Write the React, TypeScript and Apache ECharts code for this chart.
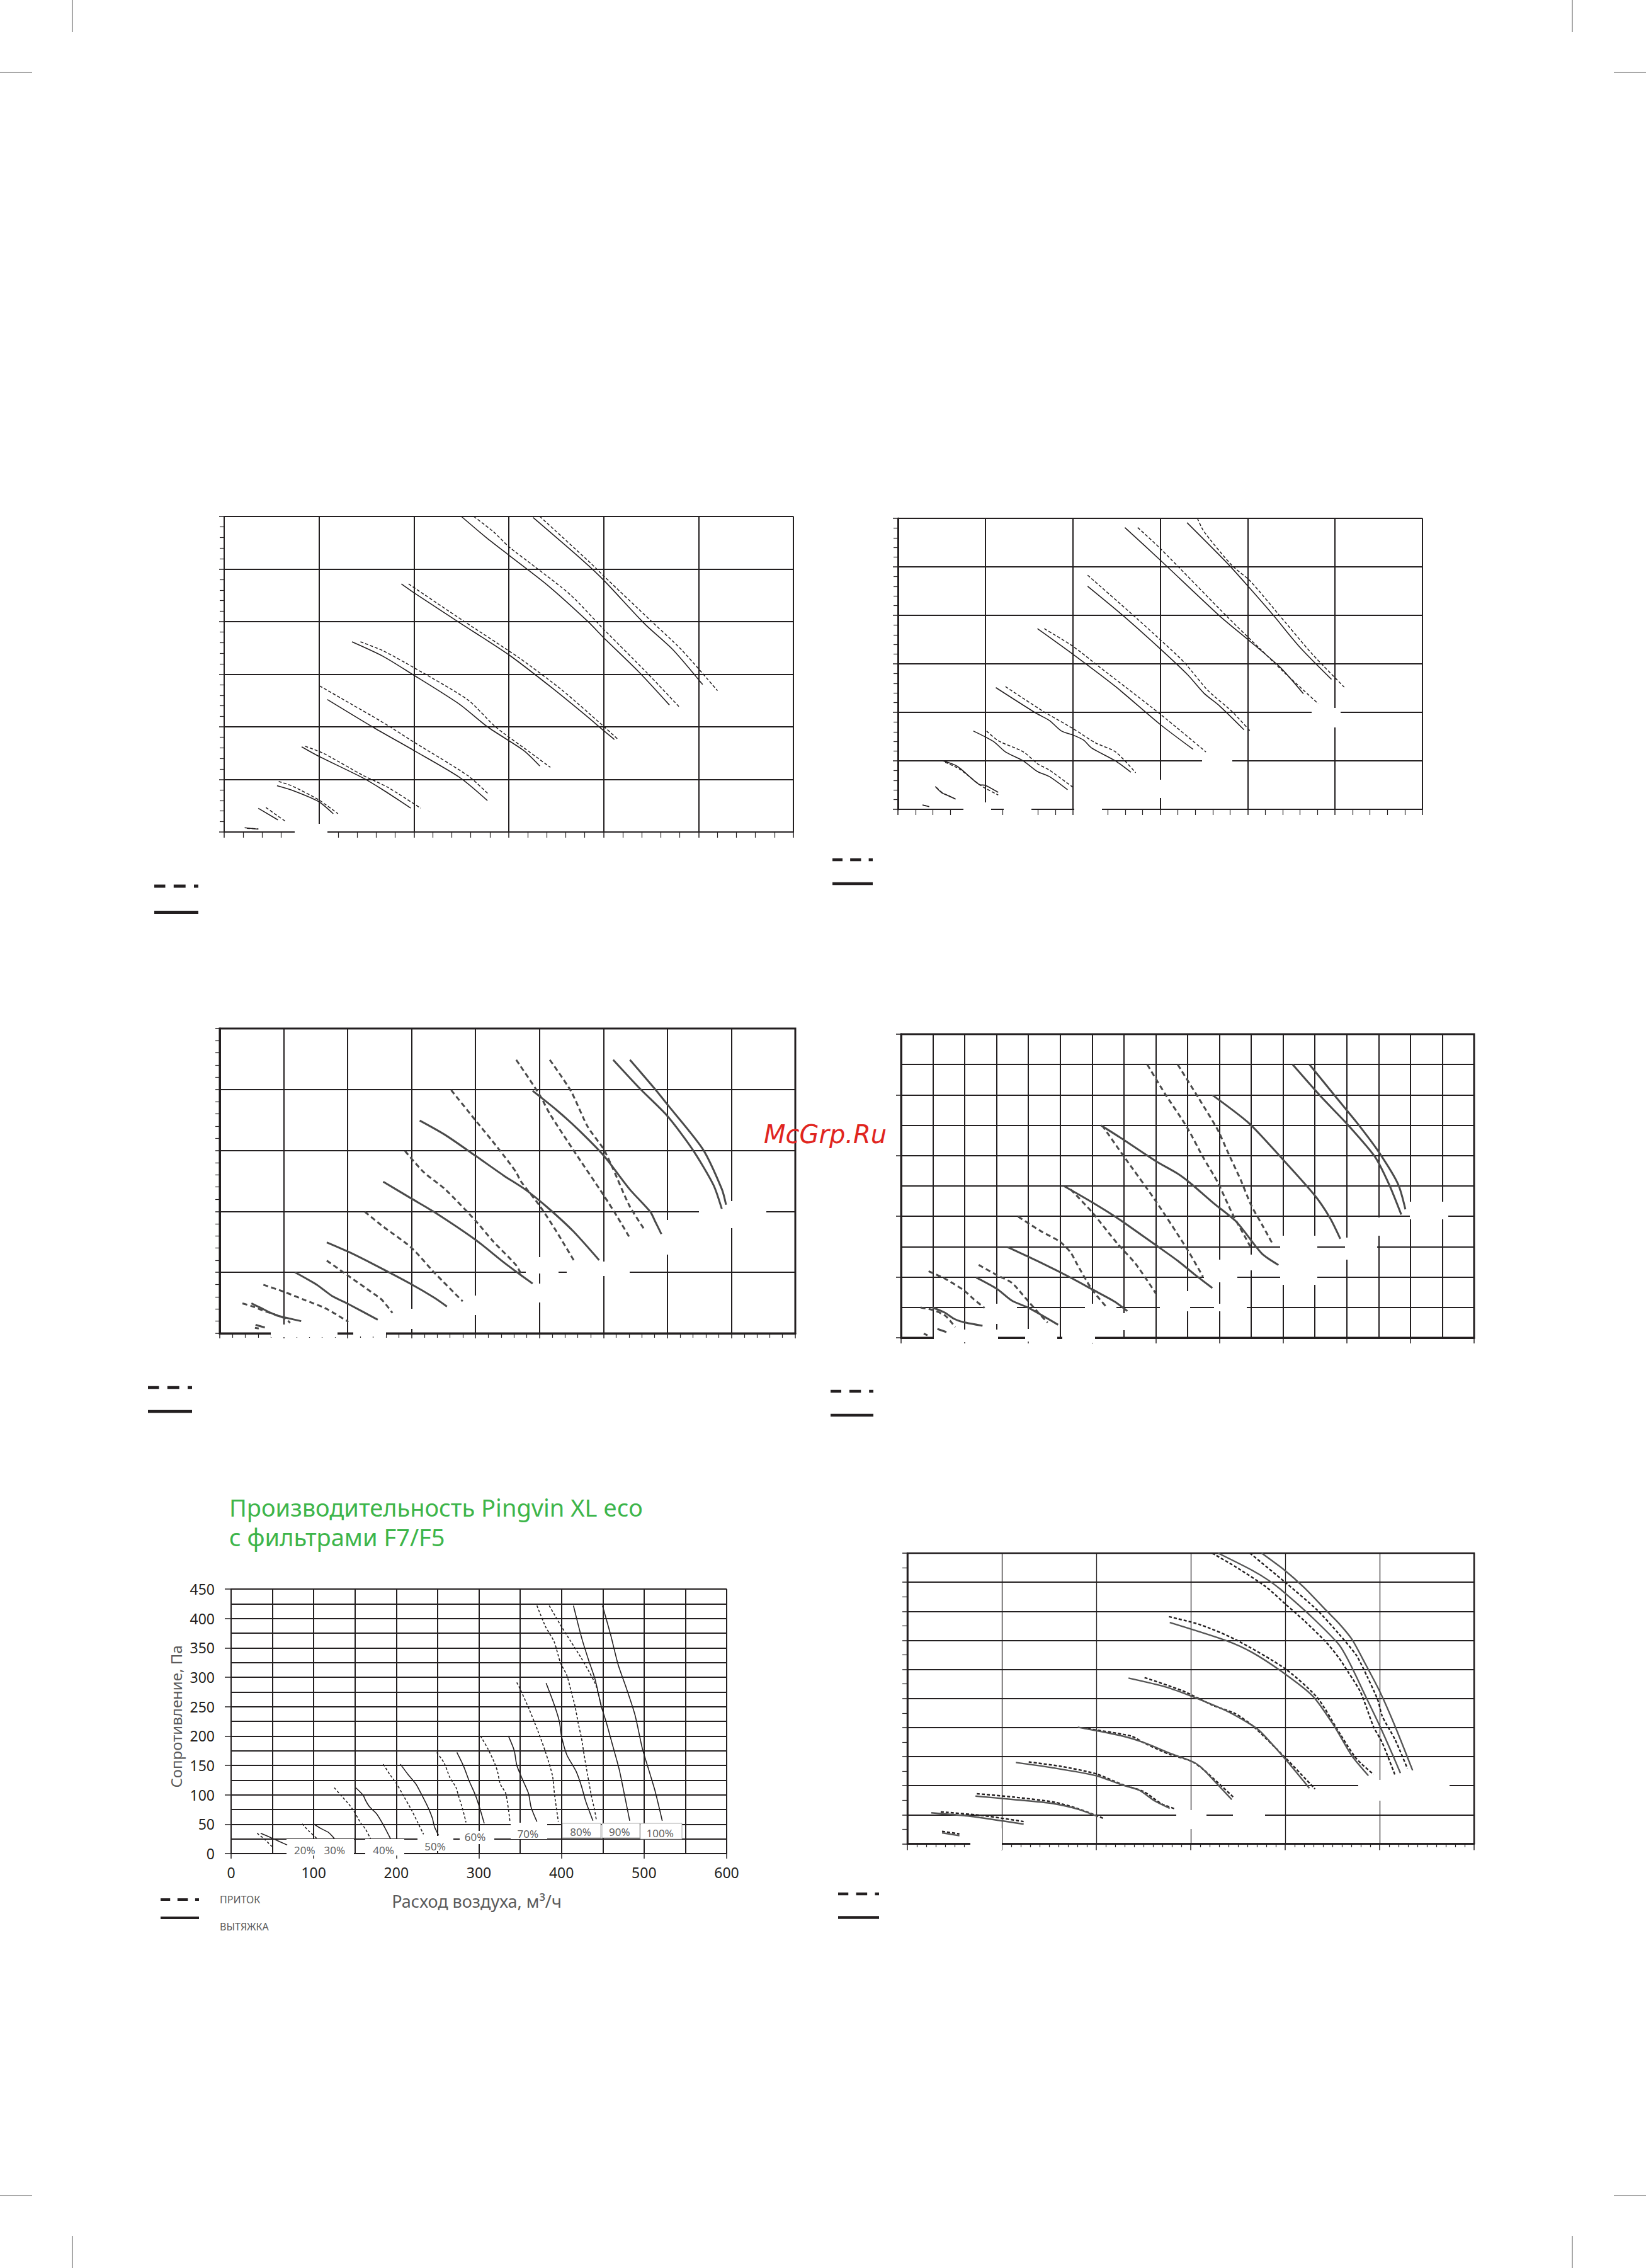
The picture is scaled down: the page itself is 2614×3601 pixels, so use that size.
import { useEffect, useRef } from "react";
import * as echarts from "echarts";

type Pt = [number, number];

const INK = "#231f20";
const GRAY = "#4a4a4a";
const FONT = '"Noto Sans", "DejaVu Sans", sans-serif';

// ---------- Chart 1 (top-left) : x 0..600, y 0..600 ----------
const c1Supply: Pt[][] = [
  [[24, 7], [36, 6]],
  [[44, 46.5], [64, 21]],
  [[57.5, 96], [71, 88], [99.7, 61], [120, 34.7]],
  [[85.3, 163], [104.6, 149.6], [147, 107], [172, 85.5], [207, 45.4]],
  [[100.6, 277.8], [122.6, 255], [167.6, 208], [200, 171], [257, 107], [278, 73]],
  [[143.7, 361.6], [167.5, 344.6], [200, 312.5], [257, 251], [286, 200], [322, 152], [343.8, 123]],
  [[194.4, 471.7], [252.8, 400.6], [311, 331], [356, 270], [398.7, 203], [415.8, 175]],
  [[263, 600], [283.8, 571], [300.4, 542], [327, 505], [365, 451], [400.5, 384.6], [446, 302], [479.6, 238]],
  [[332.7, 600], [387, 510], [400.5, 486], [450.4, 400.6], [481.8, 347], [520, 268.7]],
];
const c1Exhaust: Pt[][] = [
  [[21.6, 8], [36, 5.3]],
  [[36, 45], [56.6, 23]],
  [[55.7, 88], [73, 78.5], [99.7, 57.7], [115, 34.7]],
  [[81.7, 162], [99.7, 144], [145, 104], [167.5, 80], [196.7, 45.4]],
  [[108.7, 252], [158.5, 197.6], [200, 155], [248, 104], [277.5, 59.8]],
  [[134.7, 361.6], [167.5, 334], [196.7, 301.8], [248, 243], [277.5, 200], [315.7, 155], [332.7, 125.5]],
  [[186.8, 471.7], [200, 455], [248, 398], [300.4, 336.5], [347, 272], [383, 219], [400.5, 192], [411.3, 176]],
  [[250, 600], [275.5, 561], [300.4, 526], [340.4, 470], [383, 401], [400.5, 368.6], [437, 304.5], [469.3, 241.5]],
  [[325.6, 598], [378.5, 515.5], [400.5, 478], [443.6, 395], [472.8, 347], [504.3, 280.4]],
];

// ---------- Chart 2 (top-right) : x 0..600, y 0..600 ----------
const c2Supply: Pt[][] = [
  [[29, 8.5], [35, 5.8]],
  [[44, 45], [51, 34], [60, 26.5], [66, 21]],
  [[54, 96.9], [70.2, 83.4], [95.4, 48.4], [114.7, 29.6]],
  [[101.4, 161.5], [114.7, 141.5], [143.6, 118.4], [159.6, 94], [173.4, 80.7], [200, 45.7]],
  [[123, 253], [166.5, 201.8], [200, 166.8], [226, 137], [249, 118.4], [272, 75.3]],
  [[167.4, 372.5], [200, 336.4], [230.7, 293.3], [300, 196.4], [352.3, 118.4]],
  [[217, 482.8], [272, 395.6], [300, 349.8], [327, 304], [354.6, 245], [382, 202], [402.8, 161.5]],
  [[274.3, 581], [300, 538], [377.5, 395.6], [414.2, 331], [441.7, 282.5], [480.7, 218]],
  [[342.6, 600], [350, 573], [382, 503], [402.8, 471], [437.2, 398.3], [474, 320], [510.5, 252]],
];
const c2Exhaust: Pt[][] = [
  [[28, 9], [35.8, 5.4]],
  [[42.7, 47], [49.5, 35], [58.7, 27], [65.6, 21.5]],
  [[51.8, 99.6], [67.9, 88.8], [93.1, 51], [100, 49.5], [114.7, 35]],
  [[86.2, 161.5], [109.2, 140], [123, 118.4], [143.6, 99.6], [159.6, 78], [173.4, 67.3], [194, 40.4]],
  [[112, 251], [157.3, 199], [173.4, 183], [187, 161.5], [200, 153.4], [212.4, 142.6], [221.6, 126.5], [249, 99.6], [266.5, 76.4]],
  [[159.6, 372.5], [200, 320], [249, 253], [300, 175], [337.6, 123.8]],
  [[217, 460], [258.3, 398.3], [300, 331], [331.7, 277], [350, 239.5], [368.3, 212.6], [395.9, 164]],
  [[259.6, 581], [300, 514], [368.3, 398.3], [400.5, 349.8], [437, 293.3], [463.8, 238.4]],
  [[330.7, 591], [377.5, 506], [400.5, 460], [430.3, 398.3], [460, 333.7], [495.9, 268]],
];

// ---------- Chart 3 (middle-left) : x 0..900, y 0..500 ----------
const c3Supply: Pt[][] = [
  [[55, 9], [61, 8]],
  [[35.4, 49.1], [50.2, 44.6], [66.6, 37.8], [86.3, 30.9], [102.7, 24], [109.9, 17.2]],
  [[68.2, 79.6], [99.4, 68.6], [132.2, 54.9], [165, 41.2], [201.1, 18.9]],
  [[167.3, 119.4], [201.1, 94.3], [240.5, 65.2], [253.6, 54.9], [270, 33.6]],
  [[226.7, 199.6], [253.6, 176.6], [299.5, 140.6], [335.6, 99.5], [379.9, 52.5]],
  [[289.7, 299.1], [319.2, 264.1], [352, 236.7], [399.6, 185.2], [427.5, 150.9], [463.6, 111.5], [473.4, 92.6]],
  [[361.9, 398.9], [399.6, 349.8], [434.1, 305.2], [463.6, 264.1], [470.1, 250.4], [500.3, 209.2], [525.9, 168.1], [555.4, 116.6]],
  [[463.6, 448.6], [500.3, 391], [516.1, 360.1], [552.2, 301.8], [600.4, 226.4], [621.1, 192.1], [642.4, 154.4]],
  [[516.1, 448.6], [548.9, 397.8], [575.1, 339.5], [600.4, 301.8], [614.5, 271], [640.7, 209.2], [665.4, 168.1]],
];
const c3Exhaust: Pt[][] = [
  [[56, 14], [70.5, 9.5]],
  [[49.5, 49.1], [63.3, 42.2], [79.7, 33.6], [89.6, 29.2], [102.7, 25.8], [127.3, 20]],
  [[117.5, 100.2], [151.9, 79.6], [174.9, 61.8], [201.1, 48], [247, 22.3]],
  [[167.3, 149.2], [201.1, 133.8], [240.5, 113.2], [299.5, 80.6], [335.6, 58.3], [355.3, 43.9]],
  [[255.6, 248.7], [299.5, 221.2], [335.6, 198.9], [399.6, 153.7], [443.9, 116.6], [470.1, 96.1], [489.2, 81.7]],
  [[312.7, 349.1], [352, 325.8], [399.6, 291.5], [443.9, 258.9], [476.7, 236.7], [509.5, 209.2], [552.2, 168.1], [593.2, 120.1]],
  [[489.2, 397.8], [525.9, 367], [558.7, 336.1], [600.4, 291.5], [640.7, 236.7], [673.6, 198.9], [680.1, 185.2], [690.6, 162.9]],
  [[615.2, 448.6], [657.1, 401.3], [699.8, 356.7], [739.2, 301.8], [772, 243.5], [785.1, 204.1]],
  [[641.4, 448.6], [680.1, 401.3], [699.8, 375.6], [755.6, 301.8], [785.1, 236.7], [791.7, 211]],
];

// ---------- Chart 4 (middle-right) : x 0..900, y 0..500 ----------
const c4Supply: Pt[][] = [
  [[35.6, 6.9], [41.5, 4.1]],
  [[30.6, 49.8], [50.4, 45.6], [68.5, 37], [76.8, 28.3], [85, 17.3]],
  [[43.2, 109.5], [68.5, 97.5], [98.2, 78.4], [114.7, 62.9], [131.2, 49.1]],
  [[121.9, 119.9], [151, 103], [174, 90.5], [190, 72], [200.4, 59.4], [215, 42], [230.1, 24.9]],
  [[183.9, 199.4], [220.2, 175.2], [249.9, 157.9], [266.3, 140.6], [276.2, 121.6], [299.3, 80.2], [322.4, 50.8]],
  [[266.3, 244.3], [299.3, 207.6], [338.9, 156.2], [368.5, 121.6], [399.9, 73.3]],
  [[315.8, 349.7], [350.4, 297.9], [399.9, 225.3], [449.3, 145.8], [474, 100.9]],
  [[386.7, 449.9], [414.7, 401.6], [449.3, 346.3], [474, 297.9], [497.1, 256.4], [520.2, 204.6], [540, 166.6], [549.8, 147.6]],
  [[434.5, 449.9], [467.4, 394.6], [497.1, 342.8], [513.6, 304.8], [533.4, 259.9], [549.8, 218.4], [566.4, 187.3], [584.5, 152.7]],
];
const c4Exhaust: Pt[][] = [
  [[57, 14.5], [71.2, 9.3]],
  [[49.4, 49.8], [68.5, 41.5], [83.4, 31.1], [98.2, 25.6], [127.9, 19.7]],
  [[118, 99.2], [151, 80.2], [174, 61.2], [200.4, 49.1], [246.6, 21.4]],
  [[167.4, 149.3], [220.2, 123.4], [263, 100.9], [299.3, 80.2], [335.6, 59.4], [355.4, 43.9]],
  [[256.4, 249.5], [299.3, 223.6], [338.9, 197.7], [399.9, 152.7], [434.5, 126.8], [460.9, 104.4], [488.9, 81.9]],
  [[314.1, 349.7], [350.4, 325.5], [399.9, 291], [434.5, 270.2], [454.3, 254.7], [490.5, 221.9], [526.8, 190.8], [566.4, 138.9], [592.7, 119.9]],
  [[488.9, 399.8], [546.6, 353.2], [596, 297.9], [648.8, 235.7], [673.5, 197.7], [689.8, 163.1]],
  [[615.1, 449.9], [658.7, 398.1], [702.6, 349.7], [744.4, 297.9], [766.3, 253], [785.6, 202.9]],
  [[641.5, 449.9], [681.7, 398.1], [718, 351.5], [751, 304.8], [780.6, 253], [792.1, 211.5]],
];

// ---------- Chart 5 (Pingvin XL eco, F7/F5) : x 0..600 m3/h, y 0..450 Pa ----------
const c5Supply: Pt[][] = [
  [[31.5, 34.6], [40.4, 24.6], [49.3, 12.1]],
  [[86.1, 50.6], [93.8, 38.8], [103.9, 25.6]],
  [[125, 112], [133, 99], [142, 85], [148.4, 72.7], [157.3, 51.3], [162.4, 42.4], [168.7, 25.6]],
  [[184.3, 152], [192, 135], [200.5, 118.6], [209.4, 96.6], [218.3, 74.5], [225.9, 53.1], [233, 32.8]],
  [[249, 172], [258, 154], [265, 129], [272, 113.5], [275.5, 97.6], [280.6, 74.5], [284.4, 53.1]],
  [[302, 200], [311, 178], [319, 154], [322.5, 140], [326, 118], [332.6, 102], [337.7, 54]],
  [[345.9, 291.1], [350.4, 278.6], [360.6, 246.5], [370.8, 210.9], [380.9, 171.7], [389.1, 132.5], [391.6, 100.5], [396.2, 54.2]],
  [[370.3, 421.8], [380.9, 385.5], [391.1, 360.6], [398.7, 324.9], [406.4, 303.5], [411.9, 275], [416.5, 250.1], [420.3, 221.6], [424.2, 196.7], [427.4, 168.2], [431.8, 132.5], [436.4, 96.9], [439.9, 75.5], [442.4, 55.9]],
  [[385.2, 421.8], [398.7, 389.1], [411.4, 360.6], [424.2, 332.1], [434.3, 307.1], [441.9, 285.7], [448.3, 250.1]],
];
const c5Exhaust: Pt[][] = [
  [[35.8, 34.6], [49.3, 26.4], [67.9, 14.6]],
  [[99.6, 50.6], [109, 42.4], [117.9, 36], [125, 25.6]],
  [[151, 112], [159.8, 99.4], [163, 90], [167.5, 79.8], [176.4, 67.3], [185.3, 46.3], [192.9, 25.6]],
  [[205, 152], [214, 135], [223.6, 118.6], [231, 99.4], [238.6, 78], [243.7, 60.2], [246.2, 45.9], [251.3, 31]],
  [[273.4, 172], [281.3, 149.3], [288.2, 123.8], [295.8, 99.4], [300.9, 78], [306.5, 51.3]],
  [[335.7, 200.2], [342.8, 175.3], [345.9, 150.3], [353, 125.4], [360.1, 102.3], [363.2, 79.1], [370.3, 54.2]],
  [[381.4, 290], [391.1, 253.7], [397.4, 225.2], [400, 200.2], [406.4, 168.2], [417.8, 139.6], [424.2, 114.7], [429.2, 89.8], [438.1, 55.9]],
  [[414.5, 421.8], [420.3, 389.1], [425.4, 362.3], [433, 328.5], [440.7, 296.4], [448.3, 250.1], [454.6, 221.6], [462.3, 182.4], [469.9, 143.2], [476.2, 100.5], [482.6, 55.9]],
  [[449.6, 421.8], [459.7, 371.2], [468.6, 321.4], [477.5, 285.7], [489, 235.9], [497.9, 178.8], [505.5, 143.2], [513.1, 107.6], [522, 55.9]],
];
// fan speed labels placed at [flow, pressure]
const c5SpeedLabels: [number, number, string][] = [
  [89, 6.4, "20%"], [125.2, 6.4, "30%"], [184.5, 6.4, "40%"], [247, 12.8, "50%"],
  [295.4, 28.1, "60%"], [359.3, 33.5, "70%"], [423.1, 37.1, "80%"], [470.2, 37.1, "90%"], [519.4, 35.3, "100%"],
];

// ---------- Chart 6 (bottom-right) : x 0..600, y 0..500 ----------
const c6Supply: Pt[][] = [
  [[36.7, 21.5], [55.1, 17]],
  [[35.3, 55], [80.3, 48.5], [123.1, 38.3]],
  [[73.5, 86.2], [112.5, 80.4], [156.1, 71.5], [181.3, 60.1], [208.9, 42.9]],
  [[128.5, 140.8], [163, 133.1], [199.7, 120.4], [227.3, 102.2], [250.2, 89.8], [268.6, 69.3], [283.3, 60.1]],
  [[185.9, 199.2], [236.5, 185.5], [252.5, 171.9], [277.8, 153.7], [300.7, 142.2], [314.5, 126.3], [345.7, 79.4]],
  [[251.1, 285.9], [291.5, 263.1], [323.7, 238], [346.7, 224.3], [365, 203.8], [399.5, 149.1], [431.6, 94.3]],
  [[276.9, 390.7], [309.9, 377], [346.7, 351.9], [399.5, 301.7], [433.9, 251.6], [456.8, 192.4], [475.2, 146.9], [493.5, 119.5]],
  [[322.7, 500], [346.7, 477.3], [378.8, 443.1], [399.5, 413.5], [420.1, 383.8], [443.1, 347.3], [456.8, 320], [466, 297.2], [479.8, 260.8], [493.5, 201.5], [502.7, 174.2], [516.5, 117.2]],
  [[362.7, 500], [401.7, 447.6], [433.9, 402], [456.8, 361.1], [475.2, 324.6], [486.7, 288.1], [498.1, 247.1], [502.7, 219.8], [516.5, 178.7], [529.4, 129.5]],
];
const c6Exhaust: Pt[][] = [
  [[36.7, 19], [55.1, 14]],
  [[25.3, 53.4], [66.5, 47.4], [123.1, 33.8]],
  [[72.1, 82.1], [112.5, 76.1], [153.8, 69.3], [181.3, 59.2], [202, 46.6]],
  [[114.8, 139.9], [153.8, 130.8], [199.7, 117.2], [227.3, 101.3], [245.6, 92.1], [261.7, 73.9], [277.8, 61.1]],
  [[180.4, 200.6], [227.3, 185.5], [250.2, 174.2], [277.8, 156], [300.7, 142.2], [309.9, 133.1], [323.7, 110.4], [343.4, 76.1]],
  [[234.1, 285], [273.2, 269.9], [300.7, 253.9], [337.5, 228.9], [365, 203.8], [374.2, 192.4], [399.5, 146.9], [425.6, 95.7]],
  [[277.8, 380.7], [337.5, 349.6], [365, 329.2], [399.5, 292.6], [429.3, 253.9], [452.3, 201.5], [470.6, 151.4], [488.1, 117.2]],
  [[329, 500], [365, 470.5], [383.4, 452.2], [399.5, 431.7], [429.3, 388.4], [456.8, 342.8], [468.3, 310.9], [484.4, 256.3], [500.5, 201.5], [514.2, 151.4], [522, 121.7]],
  [[375.1, 500], [399.5, 470.5], [420.1, 440.8], [443.1, 402], [456.8, 379.3], [470.6, 351.9], [484.4, 310.9], [500.5, 260.8], [516.5, 201.5], [534.9, 126.3]],
];

const titleLines = ["Производительность Pingvin XL eco", "с фильтрами F7/F5"];
const c5AxisNames = { x: "Расход воздуха, м³/ч", y: "Сопротивление, Па" };
const legendNames = ["ПРИТОК", "ВЫТЯЖКА"];

// ------------------------------------------------------------------
type AxisOpt = {
  max: number; interval: number; axisW: number; splitW: number;
  tickLen: number; minorSplit?: number; minorTickLen?: number; minorLines?: boolean; labels?: boolean;
};

function makeAxis(gi: number, o: AxisOpt, isX: boolean) {
  return {
    type: "value",
    gridIndex: gi,
    min: 0,
    max: o.max,
    interval: o.interval,
    axisLine: { show: true, onZero: false, lineStyle: { color: INK, width: o.axisW } },
    axisTick: { show: o.tickLen > 0, length: o.tickLen, lineStyle: { color: INK, width: 1.5 } },
    minorTick: {
      show: !!o.minorTickLen,
      splitNumber: o.minorSplit || 5,
      length: o.minorTickLen || 0,
      lineStyle: { color: INK, width: 1.2 },
    },
    splitLine: { show: true, lineStyle: { color: INK, width: o.splitW } },
    minorSplitLine: { show: !!o.minorLines, lineStyle: { color: INK, width: o.splitW } },
    axisLabel: o.labels
      ? { show: true, fontFamily: FONT, fontSize: 23, color: INK, margin: isX ? 18 : 26 }
      : { show: false },
    z: 0,
  };
}

function curveSeries(sets: Pt[][], gi: number, color: string, width: number, dash: number[] | "solid") {
  return sets.map((d) => ({
    type: "line",
    xAxisIndex: gi,
    yAxisIndex: gi,
    data: d,
    symbol: "none",
    smooth: 0.25,
    silent: true,
    clip: true,
    z: 5,
    lineStyle: { color, width, type: dash, cap: "butt" },
  }));
}

function whiteBox(x: number, y: number, w: number, h: number, stroke?: string) {
  return {
    type: "rect",
    z: 3,
    silent: true,
    shape: { x, y, width: w, height: h },
    style: stroke ? { fill: "#ffffff", stroke, lineWidth: 0.8 } : { fill: "#ffffff" },
  };
}

function legendGlyph(x: number, yDash: number, ySolid: number, w: number, t: number) {
  const segs = [[0, 0.25], [0.44, 0.71], [0.9, 1]];
  const els: any[] = segs.map(([a, b]) => ({
    type: "rect", z: 10, silent: true,
    shape: { x: x + a * w, y: yDash - t / 2, width: (b - a) * w, height: t },
    style: { fill: INK },
  }));
  els.push({ type: "rect", z: 10, silent: true, shape: { x, y: ySolid - t / 2, width: w, height: t }, style: { fill: INK } });
  return els;
}

function cropLine(x1: number, y1: number, x2: number, y2: number) {
  return { type: "line", z: 10, silent: true, shape: { x1, y1, x2, y2 }, style: { stroke: "#555", lineWidth: 1 } };
}

function buildOption() {
  const grids = [
    { left: 356, top: 820, width: 904, height: 501 },
    { left: 1426, top: 823, width: 833, height: 462 },
    { left: 349, top: 1633, width: 914, height: 484, show: true, borderColor: INK, borderWidth: 3, backgroundColor: "transparent" },
    { left: 1431, top: 1642, width: 910, height: 482, show: true, borderColor: INK, borderWidth: 3, backgroundColor: "transparent" },
    { left: 367, top: 2523, width: 787, height: 420 },
    { left: 1441, top: 2466, width: 900, height: 461.5, show: true, borderColor: INK, borderWidth: 2.5, backgroundColor: "transparent" },
  ];

  const xAxes = [
    makeAxis(0, { max: 600, interval: 100, axisW: 2, splitW: 2, tickLen: 9, minorSplit: 5, minorTickLen: 9 }, true),
    makeAxis(1, { max: 600, interval: 100, axisW: 2, splitW: 2, tickLen: 9, minorSplit: 5, minorTickLen: 9 }, true),
    makeAxis(2, { max: 900, interval: 100, axisW: 3, splitW: 2, tickLen: 8, minorSplit: 5, minorTickLen: 7 }, true),
    makeAxis(3, { max: 900, interval: 100, axisW: 3, splitW: 2, tickLen: 9, minorSplit: 2, minorLines: true }, true),
    makeAxis(4, { max: 600, interval: 100, axisW: 2, splitW: 2, tickLen: 8, minorSplit: 2, minorLines: true, labels: true }, true),
    makeAxis(5, { max: 600, interval: 100, axisW: 2.5, splitW: 1.3, tickLen: 10, minorSplit: 10, minorTickLen: 5.5 }, true),
  ];
  const yAxes = [
    makeAxis(0, { max: 600, interval: 100, axisW: 2, splitW: 2, tickLen: 8, minorSplit: 5, minorTickLen: 7 }, false),
    makeAxis(1, { max: 600, interval: 100, axisW: 3, splitW: 2, tickLen: 8, minorSplit: 5, minorTickLen: 7 }, false),
    makeAxis(2, { max: 500, interval: 100, axisW: 3, splitW: 2, tickLen: 7, minorSplit: 5, minorTickLen: 7 }, false),
    makeAxis(3, { max: 500, interval: 100, axisW: 3, splitW: 2, tickLen: 8, minorSplit: 2, minorLines: true }, false),
    makeAxis(4, { max: 450, interval: 50, axisW: 2, splitW: 2, tickLen: 10, minorSplit: 2, minorLines: true, labels: true }, false),
    makeAxis(5, { max: 500, interval: 50, axisW: 2.5, splitW: 2, tickLen: 8, minorSplit: 2, minorTickLen: 8 }, false),
  ];

  const series: any[] = [
    ...curveSeries(c1Supply, 0, INK, 1.5, [5, 3]),
    ...curveSeries(c1Exhaust, 0, INK, 1.6, "solid"),
    ...curveSeries(c2Supply, 1, INK, 1.5, [5, 3]),
    ...curveSeries(c2Exhaust, 1, INK, 1.6, "solid"),
    ...curveSeries(c3Supply, 2, GRAY, 3, [8, 5]),
    ...curveSeries(c3Exhaust, 2, GRAY, 3, "solid"),
    ...curveSeries(c4Supply, 3, GRAY, 3, [8, 5]),
    ...curveSeries(c4Exhaust, 3, GRAY, 3, "solid"),
    ...curveSeries(c5Supply, 4, INK, 1.6, [4, 3]),
    ...curveSeries(c5Exhaust, 4, INK, 1.6, "solid"),
    ...curveSeries(c6Supply, 5, INK, 2.4, [5, 3]),
    ...curveSeries(c6Exhaust, 5, "#555555", 2.4, "solid"),
    {
      type: "scatter",
      xAxisIndex: 4,
      yAxisIndex: 4,
      z: 10,
      silent: true,
      symbolSize: 1,
      itemStyle: { color: "rgba(0,0,0,0)" },
      data: c5SpeedLabels.map((d) => ({ value: [d[0], d[1]], name: d[2] })),
      label: {
        show: true,
        position: "inside",
        formatter: (p: any) => p.name,
        fontFamily: FONT,
        fontSize: 17,
        color: "#333333",
      },
    },
  ];

  const graphics: any[] = [
    // label background patches that interrupt the grids
    whiteBox(468, 1308, 52, 28),
    whiteBox(1530, 1274, 44, 26), whiteBox(1594, 1280, 44, 20), whiteBox(1706, 1280, 44, 20),
    whiteBox(1828, 1238, 30, 29), whiteBox(1909, 1194, 48, 44), whiteBox(2083, 1124, 46, 31),
    whiteBox(430, 2103, 106, 20), whiteBox(561, 2106, 52, 16), whiteBox(630, 2078, 62, 32), whiteBox(735, 2057, 45, 31),
    whiteBox(835, 1996, 52, 26), whiteBox(835, 2038, 52, 30), whiteBox(900, 2003, 100, 23),
    whiteBox(1035, 1937, 50, 55), whiteBox(1110, 1907, 107, 43),
    whiteBox(1483, 2111, 102, 20), whiteBox(1572, 2081, 24, 21), whiteBox(1563, 2070, 52, 12), whiteBox(1628, 2110, 51, 20),
    whiteBox(1723, 2070, 50, 42), whiteBox(1687, 2112, 52, 20), whiteBox(1776, 2085, 18, 27), whiteBox(1842, 2050, 48, 32),
    whiteBox(1928, 2070, 52, 12), whiteBox(1912, 2000, 53, 36), whiteBox(1976, 1992, 22, 25), whiteBox(2033, 1962, 59, 78),
    whiteBox(2136, 1965, 51, 35), whiteBox(2180, 1933, 18, 29), whiteBox(2239, 1908, 61, 28),
    whiteBox(455, 2920, 107, 26), whiteBox(580, 2920, 62, 26), whiteBox(663, 2915, 57, 24), whiteBox(730, 2907, 55, 21),
    whiteBox(811, 2894, 58, 26), whiteBox(893, 2895, 61, 23, "#9a9a9a"), whiteBox(956, 2895, 60, 23, "#9a9a9a"),
    whiteBox(1017, 2895, 66, 25, "#9a9a9a"),
    whiteBox(1541, 2903, 50, 34), whiteBox(1868, 2874, 48, 30), whiteBox(1958, 2872, 51, 18), whiteBox(2157, 2826, 145, 33),

    // legends (line keys)
    ...legendGlyph(245, 1407, 1448.5, 70, 5),
    ...legendGlyph(1322, 1365, 1403, 64, 4.6),
    ...legendGlyph(235, 2203, 2241, 70, 4.5),
    ...legendGlyph(1319, 2209, 2247, 68, 4.5),
    ...legendGlyph(255, 3016, 3045, 61, 4),
    ...legendGlyph(1331, 3007, 3044.5, 65, 4.5),

    // chart 5 texts
    {
      type: "text", z: 10, silent: true, x: 364, y: 2392.5,
      style: { text: titleLines[0], fill: "#3db54a", fontFamily: FONT, fontSize: 38, align: "left", verticalAlign: "middle" },
    },
    {
      type: "text", z: 10, silent: true, x: 364, y: 2440.3,
      style: { text: titleLines[1], fill: "#3db54a", fontFamily: FONT, fontSize: 38, align: "left", verticalAlign: "middle" },
    },
    {
      type: "text", z: 10, silent: true, x: 279.4, y: 2725.5, rotation: Math.PI / 2,
      style: { text: c5AxisNames.y, fill: "#5a5a5a", fontFamily: FONT, fontSize: 24, align: "center", verticalAlign: "middle" },
    },
    {
      type: "text", z: 10, silent: true, x: 757, y: 3018.7,
      style: { text: c5AxisNames.x, fill: "#5a5a5a", fontFamily: FONT, fontSize: 27, align: "center", verticalAlign: "middle" },
    },
    {
      type: "text", z: 10, silent: true, x: 349, y: 3016,
      style: { text: legendNames[0], fill: "#5a5a5a", fontFamily: FONT, fontSize: 16, align: "left", verticalAlign: "middle" },
    },
    {
      type: "text", z: 10, silent: true, x: 349, y: 3059,
      style: { text: legendNames[1], fill: "#5a5a5a", fontFamily: FONT, fontSize: 16, align: "left", verticalAlign: "middle" },
    },

    // watermark
    {
      type: "text", z: 20, silent: true, x: 1213, y: 1801,
      style: { text: "McGrp.Ru", fill: "#e0251f", fontFamily: '"DejaVu Sans", sans-serif', fontSize: 40, fontStyle: "oblique", align: "left", verticalAlign: "middle" },
    },

    // crop marks
    cropLine(115, 0, 115, 51), cropLine(0, 115, 51, 115),
    cropLine(2497, 0, 2497, 51), cropLine(2563, 115, 2614, 115),
    cropLine(115, 3550, 115, 3601), cropLine(0, 3486, 51, 3486),
    cropLine(2497, 3550, 2497, 3601), cropLine(2563, 3486, 2614, 3486),
  ];

  return {
    animation: false,
    backgroundColor: "#ffffff",
    grid: grids,
    xAxis: xAxes,
    yAxis: yAxes,
    series,
    graphic: { elements: graphics },
  };
}

export default function App() {
  const ref = useRef<HTMLDivElement>(null);
  useEffect(() => {
    if (!ref.current) return;
    const chart = echarts.init(ref.current, undefined, { renderer: "svg" });
    chart.setOption(buildOption() as any);
    return () => chart.dispose();
  }, []);
  return (
    <div
      ref={ref}
      style={{ position: "absolute", left: 0, top: 0, width: 2614, height: 3601, background: "#fff" }}
    />
  );
}
